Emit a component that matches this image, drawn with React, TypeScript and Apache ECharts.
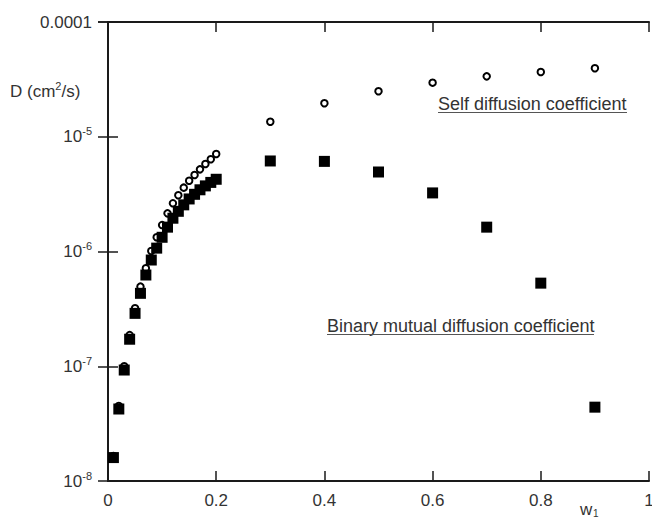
import React, { useEffect, useRef } from "react";
import * as echarts from "echarts";

const W1 = [
  0.01, 0.02, 0.03, 0.04, 0.05, 0.06, 0.07, 0.08, 0.09, 0.1,
  0.11, 0.12, 0.13, 0.14, 0.15, 0.16, 0.17, 0.18, 0.19, 0.2,
  0.3, 0.4, 0.5, 0.6, 0.7, 0.8, 0.9,
];
const SELF_D = [
  1.65e-8, 4.5e-8, 1.0e-7, 1.87e-7, 3.2e-7, 4.94e-7, 7.14e-7, 1.01e-6, 1.33e-6, 1.7e-6,
  2.15e-6, 2.63e-6, 3.09e-6, 3.6e-6, 4.14e-6, 4.64e-6, 5.2e-6, 5.79e-6, 6.36e-6, 7.08e-6,
  1.35e-5, 1.96e-5, 2.49e-5, 2.96e-5, 3.36e-5, 3.67e-5, 3.95e-5,
];
const BINARY_D = [
  1.6e-8, 4.24e-8, 9.27e-8, 1.72e-7, 2.89e-7, 4.32e-7, 6.24e-7, 8.43e-7, 1.07e-6, 1.33e-6,
  1.63e-6, 1.95e-6, 2.24e-6, 2.55e-6, 2.87e-6, 3.15e-6, 3.45e-6, 3.73e-6, 4.0e-6, 4.26e-6,
  6.15e-6, 6.1e-6, 4.93e-6, 3.24e-6, 1.63e-6, 5.3e-7, 4.4e-8,
];
const X_TICKS = [0, 0.2, 0.4, 0.6, 0.8, 1];
const Y_MIN = 1e-8;
const Y_MAX = 1e-4;

const FONT = "'Liberation Sans', Arial, Helvetica, sans-serif";
const TEXT = "#333";
const AXIS = "#1a1a1a";

export default function App() {
  const ref = useRef<HTMLDivElement>(null);
  useEffect(() => {
    if (!ref.current) return;
    const chart = echarts.init(ref.current, undefined, { renderer: "svg" });
    const axisLine = { show: true, lineStyle: { color: AXIS, width: 2 } };
    const axisTick = { show: true, inside: true, length: 10, lineStyle: { color: AXIS, width: 1.5 } };
    const xBase = {
      type: "value" as const,
      min: 0,
      max: 1,
      interval: 0.2,
      splitLine: { show: false },
      axisLine,
      axisTick,
    };
    const yBase = {
      type: "log" as const,
      logBase: 10,
      min: Y_MIN,
      max: Y_MAX,
      splitLine: { show: false },
      minorTick: { show: false },
      axisLine,
      axisTick,
    };
    const yRich = {
      b: { fontSize: 17, lineHeight: 22, color: TEXT, fontFamily: FONT },
      s: { fontSize: 11, lineHeight: 11, verticalAlign: "top", color: TEXT, fontFamily: FONT },
    };
    chart.setOption({
      animation: false,
      textStyle: { fontFamily: FONT },
      grid: {
        left: 108,
        right: 3,
        top: 22,
        bottom: 38,
        containLabel: false,
        outerBoundsMode: "none",
      },
      xAxis: [
        {
          ...xBase,
          position: "bottom",
          axisLabel: {
            show: true,
            fontSize: 17,
            color: TEXT,
            margin: 11,
            showMaxLabel: true,
            hideOverlap: false,
            formatter: (v: number) => {
              const t = X_TICKS.find((k) => Math.abs(k - v) < 1e-9);
              return t === undefined ? "" : String(t);
            },
          },
        },
        { ...xBase, position: "top", axisLabel: { show: false } },
      ],
      yAxis: [
        {
          ...yBase,
          position: "left",
          axisLabel: {
            show: true,
            margin: 16,
            rich: yRich,
            formatter: (v: number) => {
              const e = Math.round(Math.log10(v));
              if (e === -4) return "{b|0.0001}";
              return `{b|10}{s|${e}}`;
            },
          },
        },
        { ...yBase, position: "right", axisLabel: { show: false } },
      ],
      graphic: [
        {
          type: "text",
          x: 10,
          y: 91,
          style: {
            text: "{a|D (cm}{s|2}{a|/s)}",
            verticalAlign: "middle",
            rich: {
              a: { fontSize: 17, lineHeight: 22, fill: TEXT, fontFamily: FONT },
              s: { fontSize: 11, lineHeight: 11, verticalAlign: "top", fill: TEXT, fontFamily: FONT },
            },
          },
        },
        {
          type: "text",
          x: 438,
          y: 104,
          style: {
            text: "Self diffusion coefficient",
            fontSize: 18,
            fontFamily: FONT,
            fill: TEXT,
            verticalAlign: "middle",
          },
        },
        {
          type: "line",
          shape: { x1: 438, y1: 112.5, x2: 627, y2: 112.5 },
          style: { stroke: "#555", lineWidth: 1 },
        },
        {
          type: "text",
          x: 327,
          y: 326,
          style: {
            text: "Binary mutual diffusion coefficient",
            fontSize: 18,
            fontFamily: FONT,
            fill: TEXT,
            verticalAlign: "middle",
          },
        },
        {
          type: "line",
          shape: { x1: 327, y1: 334.5, x2: 594, y2: 334.5 },
          style: { stroke: "#555", lineWidth: 1 },
        },
        {
          type: "text",
          x: 580,
          y: 509,
          style: { text: "w", fontSize: 17, fontFamily: FONT, fill: TEXT, verticalAlign: "middle" },
        },
        {
          type: "text",
          x: 593,
          y: 513,
          style: { text: "1", fontSize: 10, fontFamily: FONT, fill: TEXT, verticalAlign: "middle" },
        },
      ],
      series: [
        {
          name: "Self diffusion coefficient",
          type: "scatter",
          xAxisIndex: 0,
          yAxisIndex: 0,
          symbol: "circle",
          symbolSize: 6.5,
          itemStyle: { color: "#fff", borderColor: "#000", borderWidth: 2, opacity: 1 },
          data: W1.map((x, i) => [x, SELF_D[i]]),
          z: 2,
        },
        {
          name: "Binary mutual diffusion coefficient",
          type: "scatter",
          xAxisIndex: 0,
          yAxisIndex: 0,
          symbol: "rect",
          symbolSize: 11,
          itemStyle: { color: "#000", opacity: 1 },
          data: W1.map((x, i) => [x, BINARY_D[i]]),
          z: 3,
        },
      ],
    });
    return () => chart.dispose();
  }, []);
  return (
    <div
      ref={ref}
      style={{ position: "fixed", left: 0, top: 0, width: 652, height: 519, background: "#fff" }}
    />
  );
}
